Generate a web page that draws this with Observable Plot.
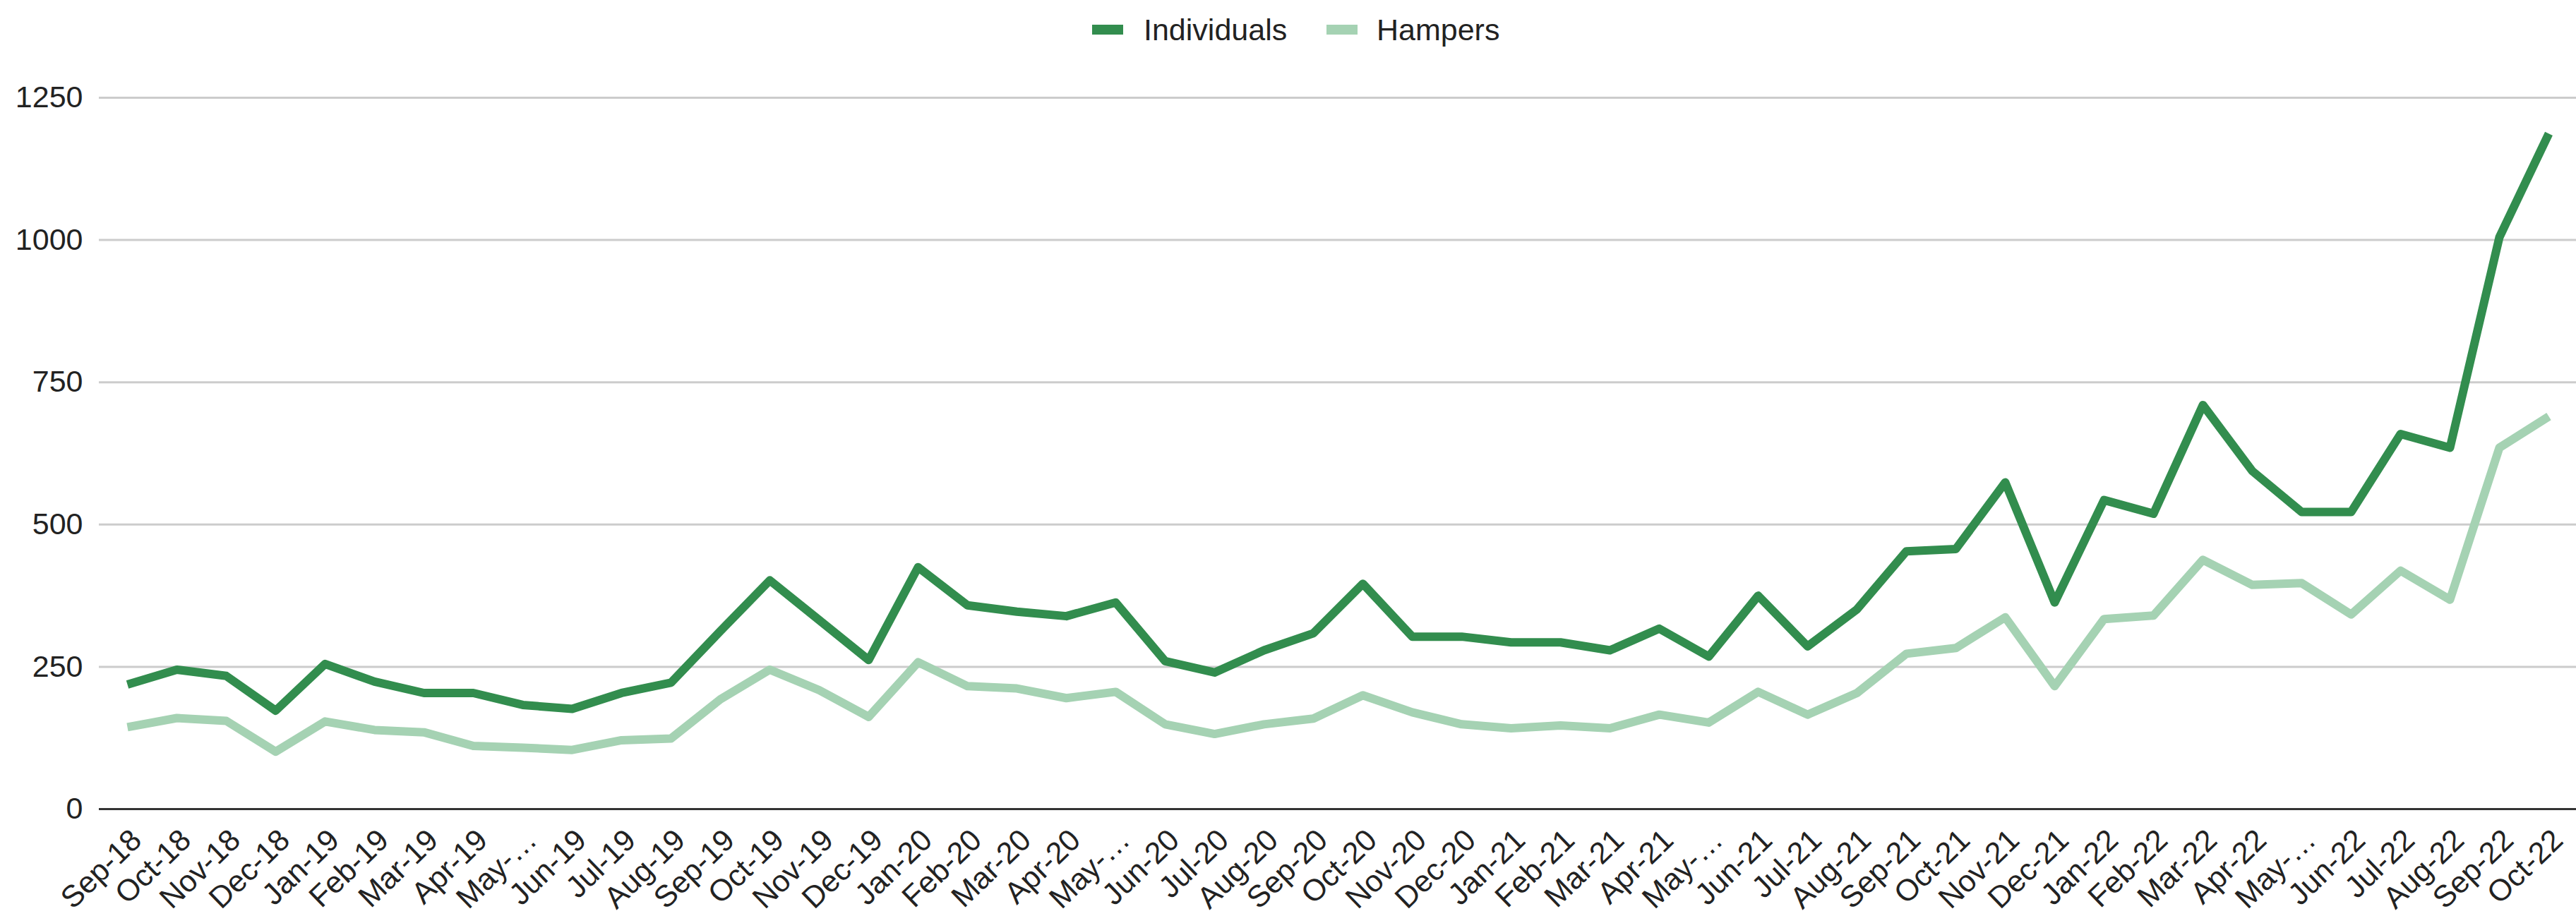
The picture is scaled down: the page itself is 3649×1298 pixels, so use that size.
<!DOCTYPE html>
<html>
<head>
<meta charset="utf-8">
<script src="https://cdn.jsdelivr.net/npm/d3@7"></script>
<script src="https://cdn.jsdelivr.net/npm/@observablehq/plot@0.6"></script>
<style>
  html, body { margin: 0; padding: 0; background: #fff; overflow: hidden; }
  #legend { position: relative; width: 3649px; height: 84px; font-family: "Liberation Sans", Arial, sans-serif; font-size: 43px; color: #222; }
  #legend .sw { position: absolute; top: 35px; width: 44px; height: 14px; }
  #legend .lb { position: absolute; top: 0; line-height: 84px; white-space: nowrap; }
</style>
</head>
<body>
<div id="legend"></div>
<div id="chart"></div>
<script>
const months = ["Sep-18","Oct-18","Nov-18","Dec-18","Jan-19","Feb-19","Mar-19","Apr-19","May-19","Jun-19","Jul-19","Aug-19",
  "Sep-19","Oct-19","Nov-19","Dec-19","Jan-20","Feb-20","Mar-20","Apr-20","May-20","Jun-20","Jul-20","Aug-20",
  "Sep-20","Oct-20","Nov-20","Dec-20","Jan-21","Feb-21","Mar-21","Apr-21","May-21","Jun-21","Jul-21","Aug-21",
  "Sep-21","Oct-21","Nov-21","Dec-21","Jan-22","Feb-22","Mar-22","Apr-22","May-22","Jun-22","Jul-22","Aug-22",
  "Sep-22","Oct-22"];
const tickLabels = ["Sep-18","Oct-18","Nov-18","Dec-18","Jan-19","Feb-19","Mar-19","Apr-19","May-…","Jun-19","Jul-19","Aug-19",
  "Sep-19","Oct-19","Nov-19","Dec-19","Jan-20","Feb-20","Mar-20","Apr-20","May-…","Jun-20","Jul-20","Aug-20",
  "Sep-20","Oct-20","Nov-20","Dec-20","Jan-21","Feb-21","Mar-21","Apr-21","May-…","Jun-21","Jul-21","Aug-21",
  "Sep-21","Oct-21","Nov-21","Dec-21","Jan-22","Feb-22","Mar-22","Apr-22","May-…","Jun-22","Jul-22","Aug-22",
  "Sep-22","Oct-22"];
const individuals = [219,245,234,173,255,224,204,204,183,176,204,222,
  313,402,332,262,425,358,347,339,363,260,240,279,
  309,396,303,303,293,293,279,317,268,375,286,351,
  453,457,574,363,543,519,710,594,522,522,659,635,
  1005,1187];
const hampers = [144,160,155,101,154,139,135,111,108,104,121,124,
  193,245,209,162,258,216,212,195,206,149,132,149,
  159,200,170,149,142,147,142,166,152,206,166,204,
  273,283,337,216,334,340,438,394,397,342,419,368,
  635,690];
const seriesNames = ["Individuals", "Hampers"];
const seriesColors = ["#328d4e", "#a5d2b3"];
const yTicks = [0, 250, 500, 750, 1000, 1250];

const data = [];
months.forEach((m, i) => {
  data.push({month: m, series: seriesNames[0], value: individuals[i]});
  data.push({month: m, series: seriesNames[1], value: hampers[i]});
});

// legend
const legend = document.getElementById("legend");
const legendPos = [{sw: 1547, lb: 1620}, {sw: 1879, lb: 1950}];
seriesNames.forEach((name, i) => {
  const sw = document.createElement("div");
  sw.className = "sw";
  sw.style.left = legendPos[i].sw + "px";
  sw.style.background = seriesColors[i];
  legend.appendChild(sw);
  const lb = document.createElement("div");
  lb.className = "lb";
  lb.style.left = legendPos[i].lb + "px";
  lb.textContent = name;
  legend.appendChild(lb);
});

const chart = Plot.plot({
  width: 3649,
  height: 1214,
  marginLeft: 140,
  marginRight: 0,
  marginTop: 54,
  marginBottom: 152,
  style: {fontFamily: "'Liberation Sans', Arial, sans-serif", fontSize: "43px", color: "#222", background: "#fff"},
  x: {type: "point", domain: months, padding: 0.5, axis: null},
  y: {domain: [0, 1250], axis: null},
  color: {domain: seriesNames, range: seriesColors},
  marks: [
    Plot.gridY(yTicks, {stroke: "#cccccc", strokeOpacity: 1, strokeWidth: 3}),
    Plot.axisY(yTicks, {tickSize: 0, tickPadding: 23, tickFormat: d => String(d), fontSize: 43, fill: "#222", label: null}),
    Plot.ruleY([0], {stroke: "#333", strokeWidth: 3}),
    Plot.line(data, {x: "month", y: "value", z: "series", stroke: "series", strokeWidth: 12, strokeLinejoin: "round", strokeLinecap: "butt"}),
    Plot.text(months, {x: d => d, text: (d, i) => tickLabels[i], frameAnchor: "bottom", rotate: -44, textAnchor: "end", lineAnchor: "middle", dx: 13, dy: 37, fontSize: 43, fill: "#222"})
  ]
});
document.getElementById("chart").appendChild(chart);
</script>
</body>
</html>
